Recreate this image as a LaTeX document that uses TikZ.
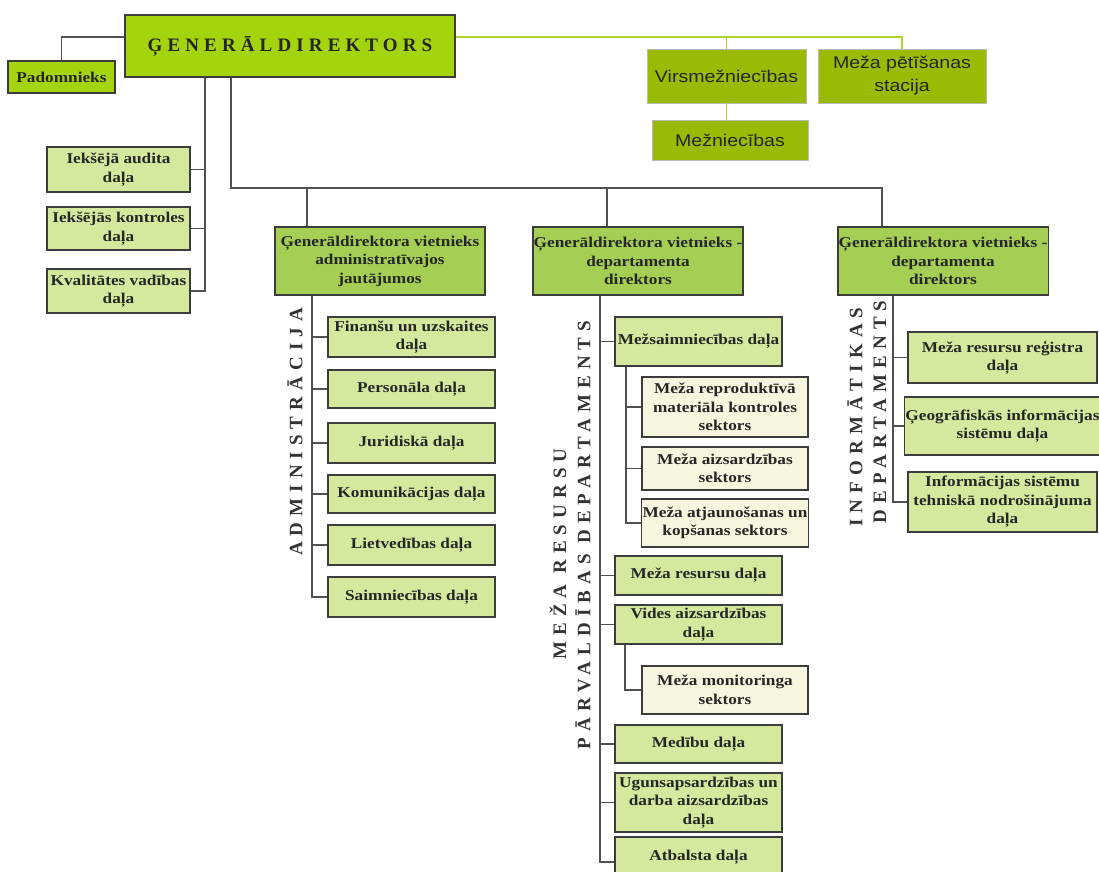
\documentclass[tikz,border=0pt]{standalone}
\usepackage{fontspec}
\setmainfont{Liberation Serif}
\newfontfamily\boxfont[FakeStretch=1.15]{Liberation Serif}
\newfontfamily\topfont[FakeStretch=1.15]{Liberation Sans}
\newfontfamily\gdfont[LetterSpace=27]{Liberation Serif}
\newfontfamily\vlabfont[LetterSpace=32]{Liberation Serif}
\definecolor{topgreen}{RGB}{164,212,14}
\definecolor{olivegreen}{RGB}{153,187,4}
\definecolor{deptgreen}{RGB}{164,207,84}
\definecolor{unitgreen}{RGB}{214,232,158}
\definecolor{sectcream}{RGB}{246,246,222}
\definecolor{boxline}{RGB}{60,60,60}
\definecolor{linkgray}{RGB}{80,80,80}
\definecolor{linkgreen}{RGB}{172,212,40}
\tikzset{
  box/.style={draw=boxline, line width=1.6pt, inner sep=1pt, align=center,
    text=black!85, font=\boxfont\bfseries\fontsize{15}{18.5}\selectfont},
  topbox/.style={box, fill=topgreen},
  dept/.style={box, fill=deptgreen, minimum width=210pt, minimum height=68pt},
  unitbox/.style={box, fill=unitgreen},
  sectbox/.style={box, fill=sectcream},
  forestbox/.style={draw=gray!55, line width=0.8pt, fill=olivegreen, align=center,
    inner sep=1pt, text=black!85, font=\topfont\fontsize{17}{23}\selectfont},
  vlab/.style={rotate=90, inner sep=0pt, text=black!80,
    font=\vlabfont\bfseries\fontsize{19}{19}\selectfont},
  link/.style={draw=linkgray, line width=1.4pt},
  greenlink/.style={draw=linkgreen, line width=1.6pt}
}
\begin{document}
\begin{tikzpicture}[x=1pt, y=-1pt]
  \useasboundingbox (0,0) rectangle (1099,871);
  \clip (0,0) rectangle (1099,871);
  \draw
    (290,46) node[topbox, minimum width=330pt, minimum height=62pt] (gd)
      {\gdfont\bfseries\fontsize{19}{19}\selectfont ĢENERĀLDIREKTORS}
    (61.5,77) node[topbox, minimum width=107pt, minimum height=32pt] (pad) {Padomnieks}
    (726.5,76) node[forestbox, minimum width=159pt, minimum height=54pt] (virs) {Virsmežniecības}
    (902,76) node[forestbox, minimum width=168pt, minimum height=54pt] (pet) {Meža pētīšanas\\stacija}
    (730,140) node[forestbox, minimum width=156pt, minimum height=40pt] (mezn) {Mežniecības};
  \draw
    (118.5,169.5) node[unitbox, minimum width=143pt, minimum height=45pt] (iad) {Iekšējā audita\\daļa}
    (118.5,228.5) node[unitbox, minimum width=143pt, minimum height=43pt] (ikd) {Iekšējās kontroles\\daļa}
    (118.5,291) node[unitbox, minimum width=143pt, minimum height=44pt] (kvd) {Kvalitātes vadības\\daļa};
  \draw
    (380,261) node[dept] (adm) {Ģenerāldirektora vietnieks\\administratīvajos\\jautājumos}
    (638,261) node[dept] (mrp) {Ģenerāldirektora vietnieks -\\departamenta\\direktors}
    (943,261) node[dept] (inf) {Ģenerāldirektora vietnieks -\\departamenta\\direktors};
  \draw
    (411.5,337) node[unitbox, minimum width=167pt, minimum height=40pt] (fin) {Finanšu un uzskaites\\daļa}
    (411.5,389) node[unitbox, minimum width=167pt, minimum height=38pt] (pers) {Personāla daļa}
    (411.5,443) node[unitbox, minimum width=167pt, minimum height=40pt] (jur) {Juridiskā daļa}
    (411.5,494) node[unitbox, minimum width=167pt, minimum height=38pt] (kom) {Komunikācijas daļa}
    (411.5,545) node[unitbox, minimum width=167pt, minimum height=40pt] (liet) {Lietvedības daļa}
    (411.5,597) node[unitbox, minimum width=167pt, minimum height=40pt] (saim) {Saimniecības daļa};
  \draw
    (698.5,341.5) node[unitbox, minimum width=167pt, minimum height=49pt] (msd) {Mežsaimniecības daļa}
    (725,407) node[sectbox, minimum width=166pt, minimum height=60pt] (rep) {Meža reproduktīvā\\materiāla kontroles\\sektors}
    (725,468.5) node[sectbox, minimum width=166pt, minimum height=43pt] (aiz) {Meža aizsardzības\\sektors}
    (725,523) node[sectbox, minimum width=166pt, minimum height=48pt] (atj) {Meža atjaunošanas un\\kopšanas sektors}
    (698.5,575.5) node[unitbox, minimum width=167pt, minimum height=39pt] (mrd) {Meža resursu daļa}
    (698.5,624.5) node[unitbox, minimum width=167pt, minimum height=39pt] (vad) {Vides aizsardzības\\daļa}
    (725,690) node[sectbox, minimum width=166pt, minimum height=48pt] (mon) {Meža monitoringa\\sektors}
    (698.5,744) node[unitbox, minimum width=167pt, minimum height=38pt] (med) {Medību daļa}
    (698.5,802.5) node[unitbox, minimum width=167pt, minimum height=59pt] (ugd) {Ugunsapsardzības un\\darba aizsardzības\\daļa}
    (698.5,857) node[unitbox, minimum width=167pt, minimum height=40pt] (atb) {Atbalsta daļa};
  \draw
    (1002.5,357.5) node[unitbox, minimum width=189pt, minimum height=51pt] (mrr) {Meža resursu reģistra\\daļa}
    (1002.5,426) node[unitbox, minimum width=189pt, minimum height=58pt] (geo) {Ģeogrāfiskās informācijas\\sistēmu daļa}
    (1002.5,502) node[unitbox, minimum width=189pt, minimum height=60pt] (ist) {Informācijas sistēmu\\tehniskā nodrošinājuma\\daļa};
  \node[vlab] (admlab) at (295,432) {ADMINISTRĀCIJA};
  \node[vlab] (mrlab) at (558,554) {MEŽA RESURSU};
  \node[vlab] (pdlab) at (583,535) {PĀRVALDĪBAS DEPARTAMENTS};
  \node[vlab] (inlab) at (855,417) {INFORMĀTIKAS};
  \node[vlab] (delab) at (880,412) {DEPARTAMENTS};
  \coordinate (gdr) at ([yshift=9pt]gd.east);
  \coordinate (buse) at (882,188);
  \begin{scope}[greenlink]
    \draw (gdr) -| (pet.north);
    \draw (virs.north) -- (virs.north |- gdr);
    \draw (virs.south) -- (virs.south |- mezn.north);
  \end{scope}
  \begin{scope}[link]
    \draw ([yshift=9pt]gd.west) -| (pad.north);
    \draw ([xshift=-85pt]gd.south) |- (iad.east);
    \draw ([xshift=-85pt]gd.south) |- (ikd.east);
    \draw ([xshift=-85pt]gd.south) |- (kvd.east);
    \draw ([xshift=-59pt]gd.south) |- (buse) -- ([xshift=-61pt]inf.north);
    \draw ([xshift=-73pt]adm.north) |- (buse);
    \draw ([xshift=-31pt]mrp.north) |- (buse);
    \draw ([xshift=-68pt]adm.south) |- (fin.west);
    \draw ([xshift=-68pt]adm.south) |- (pers.west);
    \draw ([xshift=-68pt]adm.south) |- (jur.west);
    \draw ([xshift=-68pt]adm.south) |- (kom.west);
    \draw ([xshift=-68pt]adm.south) |- (liet.west);
    \draw ([xshift=-68pt]adm.south) |- (saim.west);
    \draw ([xshift=-38pt]mrp.south) |- (msd.west);
    \draw ([xshift=-38pt]mrp.south) |- (mrd.west);
    \draw ([xshift=-38pt]mrp.south) |- (vad.west);
    \draw ([xshift=-38pt]mrp.south) |- (med.west);
    \draw ([xshift=-38pt]mrp.south) |- (ugd.west);
    \draw ([xshift=-38pt]mrp.south) |- ([yshift=-5pt]atb.west);
    \draw ([xshift=-72.5pt]msd.south) |- (rep.west);
    \draw ([xshift=-72.5pt]msd.south) |- (aiz.west);
    \draw ([xshift=-72.5pt]msd.south) |- (atj.west);
    \draw ([xshift=-73.5pt]vad.south) |- (mon.west);
    \draw ([xshift=-50pt]inf.south) |- (mrr.west);
    \draw ([xshift=-50pt]inf.south) |- (geo.west);
    \draw ([xshift=-50pt]inf.south) |- (ist.west);
  \end{scope}
\end{tikzpicture}
\end{document}
